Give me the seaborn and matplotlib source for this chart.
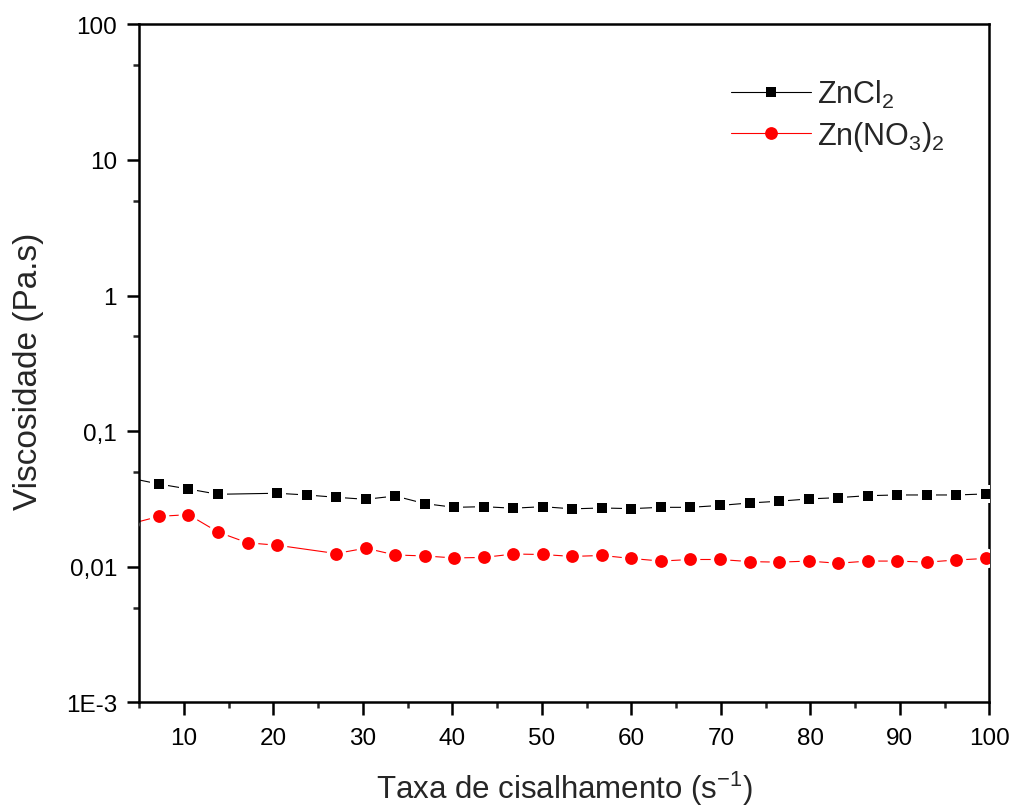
import numpy as np
import pandas as pd
import matplotlib
matplotlib.use("Agg")
import matplotlib.pyplot as plt
from matplotlib.lines import Line2D
from matplotlib.ticker import FixedLocator, FixedFormatter, NullFormatter
import seaborn as sns

# Shear rate (1/s) and viscosity (Pa.s) for each solution
rate_zncl2 = [3.9, 7.2, 10.5, 13.8, 20.4, 23.7, 27.0, 30.3, 33.6, 36.9, 40.2,
              43.5, 46.8, 50.1, 53.4, 56.7, 60.0, 63.3, 66.6, 69.9, 73.2, 76.5,
              79.8, 83.1, 86.4, 89.7, 93.0, 96.3, 99.6]
visc_zncl2 = [0.0451, 0.0407, 0.0374, 0.0342, 0.0348, 0.0338, 0.0325, 0.0314,
              0.0332, 0.0292, 0.0274, 0.0277, 0.0270, 0.0277, 0.0267, 0.0271,
              0.0268, 0.0274, 0.0274, 0.0283, 0.0295, 0.0304, 0.0316, 0.0323,
              0.0334, 0.0338, 0.0338, 0.0338, 0.0344]

rate_znno3 = [3.9, 7.2, 10.5, 13.8, 17.1, 20.4, 27.0, 30.3, 33.6, 36.9, 40.2,
              43.5, 46.8, 50.1, 53.4, 56.7, 60.0, 63.3, 66.6, 69.9, 73.2, 76.5,
              79.8, 83.1, 86.4, 89.7, 93.0, 96.3, 99.6]
visc_znno3 = [0.0206, 0.0235, 0.0242, 0.0180, 0.0150, 0.0144, 0.0125, 0.0137,
              0.0122, 0.0120, 0.0116, 0.0117, 0.0124, 0.0123, 0.0119, 0.0121,
              0.0115, 0.0110, 0.0113, 0.0113, 0.0109, 0.0108, 0.0110, 0.0106,
              0.0110, 0.0110, 0.0108, 0.0112, 0.0115]

y_ticks = [1e-3, 1e-2, 1e-1, 1, 10, 100]
y_tick_labels = ["1E-3", "0,01", "0,1", "1", "10", "100"]
x_ticks = [10, 20, 30, 40, 50, 60, 70, 80, 90, 100]

sns.set_style("ticks")
plt.rcParams["font.family"] = ["Liberation Sans", "DejaVu Sans"]
plt.rcParams["mathtext.fontset"] = "custom"
plt.rcParams["mathtext.rm"] = "Liberation Sans"
plt.rcParams["mathtext.it"] = "Liberation Sans:italic"
plt.rcParams["mathtext.bf"] = "Liberation Sans:bold"

df_cl = pd.DataFrame({"rate": rate_zncl2, "visc": visc_zncl2})
df_no = pd.DataFrame({"rate": rate_znno3, "visc": visc_znno3})

fig = plt.figure(figsize=(10.13, 8.12), dpi=100)
ax = fig.add_axes([0.1375, 0.1339, 0.8391, 0.8349])

series = [
    (df_cl, "black", "s", 45, 150),
    (df_no, "#ff0000", "o", 85, 200),
]
for df, color, marker, size, halo in series:
    sns.lineplot(data=df, x="rate", y="visc", color=color, linewidth=0.8,
                 estimator=None, sort=False, ax=ax, zorder=2)
    # white halo leaves a small gap in the line around each symbol
    ax.scatter(df["rate"], df["visc"], s=halo, marker=marker, color="white",
               linewidths=0, zorder=3)
    sns.scatterplot(data=df, x="rate", y="visc", color=color, marker=marker,
                    s=size, linewidth=0, ax=ax, zorder=4)

ax.set_yscale("log")
ax.set_xlim(5, 100)
ax.set_ylim(1e-3, 100)

ax.yaxis.set_major_locator(FixedLocator(y_ticks))
ax.yaxis.set_major_formatter(FixedFormatter(y_tick_labels))
ax.yaxis.set_minor_locator(FixedLocator([5e-3, 5e-2, 0.5, 5, 50]))
ax.yaxis.set_minor_formatter(NullFormatter())
ax.xaxis.set_major_locator(FixedLocator(x_ticks))
ax.xaxis.set_minor_locator(FixedLocator(np.arange(5, 100, 10)))

for s in ax.spines.values():
    s.set_linewidth(1.8)
    s.set_color("black")

ax.tick_params(axis="both", which="major", direction="out", length=9, width=1.8,
               labelsize=17.5, colors="black", pad=7)
ax.tick_params(axis="both", which="minor", direction="out", length=4.5, width=1.8)
ax.tick_params(axis="x", which="major", pad=9)

ax.set_xlabel("Taxa de cisalhamento (s$^{-1}$)", fontsize=22.5, labelpad=14)
ax.set_ylabel("Viscosidade (Pa.s)", fontsize=24)
ax.yaxis.set_label_coords(-0.112, 0.489)

handles = [
    Line2D([], [], color="black", linewidth=0.8, marker="s", markersize=6.7,
           markeredgewidth=0),
    Line2D([], [], color="#ff0000", linewidth=0.8, marker="o", markersize=9.2,
           markeredgewidth=0),
]
ax.legend(handles, ["ZnCl$_2$", "Zn(NO$_3$)$_2$"], loc="upper left",
          bbox_to_anchor=(0.682, 0.939), frameon=False, fontsize=22,
          handlelength=2.62, handletextpad=0.2, labelspacing=0.3,
          borderaxespad=0)

fig.savefig("out.png", dpi=100, facecolor="white")
